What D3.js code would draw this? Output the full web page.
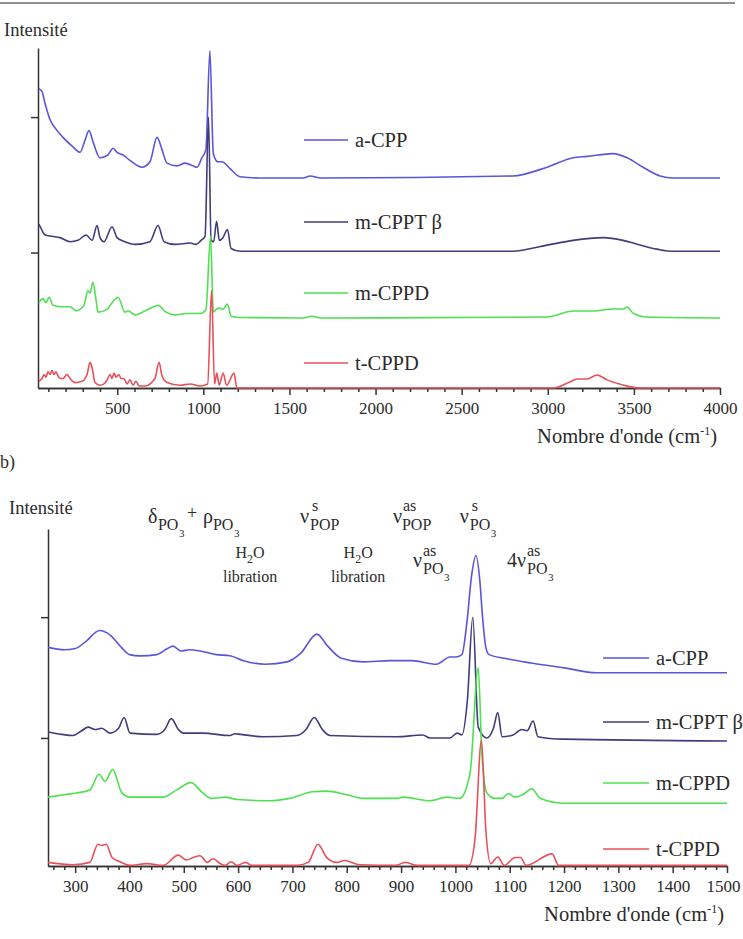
<!DOCTYPE html>
<html>
<head>
<meta charset="utf-8">
<script src="https://cdn.jsdelivr.net/npm/d3@7/dist/d3.min.js"></script>
<style>
  body { margin: 0; background: #fff; }
  svg text { fill: #2b2b2b; }
</style>
</head>
<body>
<script>
const FONT = "'Liberation Serif', 'Tinos', 'DejaVu Serif', serif";

// series names + colours (same for both panels)
const seriesNames = ["a-CPP", "m-CPPT \u03b2", "m-CPPD", "t-CPPD"];
const seriesColors = ["#5a55dc", "#3f3d7c", "#4fe04f", "#e8505a"];

// panel a : [wavenumber (cm-1), intensity]
const topACPP = [[45,2.21],[55,2.20],[63,2.19],[81,2.10],[110,1.98],[139,1.92],[185,1.85],[243,1.78],[284,1.74],[313,1.83],[336,1.90],[359,1.82],[400,1.70],[446,1.72],[476,1.77],[499,1.74],[534,1.72],[574,1.68],[644,1.63],[690,1.67],[731,1.85],[760,1.76],[789,1.66],[847,1.64],[894,1.66],[940,1.64],[963,1.63],[992,1.70],[1015,1.76],[1038,2.49],[1058,1.73],[1085,1.67],[1108,1.67],[1155,1.62],[1213,1.56],[1329,1.55],[1580,1.55],[1620,1.565],[1680,1.55],[2795,1.565],[2996,1.63],[3147,1.70],[3228,1.71],[3379,1.73],[3460,1.70],[3553,1.63],[3652,1.565],[3728,1.55],[4000,1.55]];
const topMCPPT = [[45,1.21],[57,1.18],[81,1.13],[121,1.12],[168,1.11],[226,1.08],[272,1.09],[319,1.13],[354,1.09],[383,1.20],[400,1.11],[423,1.08],[470,1.19],[499,1.11],[545,1.08],[603,1.06],[690,1.08],[737,1.20],[772,1.08],[836,1.06],[923,1.07],[958,1.06],[987,1.09],[1010,1.12],[1030,2.00],[1045,1.09],[1060,1.08],[1077,1.23],[1093,1.09],[1114,1.11],[1140,1.17],[1161,1.03],[1213,1.01],[2795,1.01],[2996,1.055],[3147,1.09],[3321,1.11],[3437,1.09],[3524,1.06],[3634,1.025],[3710,1.01],[4000,1.01]];
const topMCPPD = [[45,0.63],[69,0.66],[86,0.63],[104,0.67],[127,0.61],[168,0.60],[226,0.60],[261,0.57],[307,0.61],[330,0.72],[342,0.70],[359,0.78],[377,0.65],[388,0.56],[441,0.58],[470,0.63],[505,0.67],[545,0.56],[563,0.57],[603,0.54],[679,0.58],[737,0.61],[783,0.56],[836,0.54],[899,0.55],[981,0.55],[1015,0.58],[1042,1.12],[1058,0.56],[1074,0.58],[1097,0.59],[1114,0.58],[1140,0.62],[1161,0.53],[1213,0.52],[1580,0.517],[1630,0.53],[1680,0.517],[2996,0.524],[3147,0.568],[3263,0.568],[3379,0.583],[3437,0.583],[3460,0.598],[3495,0.553],[3576,0.524],[4000,0.517]];
const topTCPPD = [[45,0.05],[63,0.07],[75,0.10],[86,0.08],[98,0.12],[110,0.10],[121,0.13],[133,0.10],[145,0.12],[156,0.09],[168,0.07],[185,0.07],[208,0.10],[232,0.06],[255,0.04],[296,0.05],[325,0.10],[342,0.19],[354,0.15],[371,0.04],[400,0.02],[423,0.03],[441,0.06],[458,0.10],[470,0.07],[481,0.11],[493,0.08],[510,0.10],[522,0.07],[539,0.07],[557,0.03],[574,0.06],[592,0.02],[609,0.05],[627,0.015],[661,0.015],[719,0.07],[743,0.19],[760,0.09],[789,0.04],[865,0.02],[923,0.03],[981,0.015],[1025,0.03],[1048,0.72],[1065,0.03],[1078,0.11],[1092,0.02],[1115,0.11],[1135,0.02],[1178,0.11],[1195,0.0],[3031,0.0],[3128,0.044],[3170,0.066],[3228,0.066],[3286,0.096],[3344,0.06],[3437,0.022],[3536,0.0],[4000,0.0]];

// panel b : [wavenumber (cm-1), intensity]
const botACPP = [[250,1.75],[280,1.73],[300,1.74],[320,1.80],[345,1.89],[365,1.85],[385,1.75],[400,1.69],[420,1.68],[450,1.69],[470,1.74],[480,1.76],[495,1.72],[510,1.73],[530,1.72],[560,1.69],[585,1.68],[610,1.64],[650,1.61],[690,1.63],[715,1.70],[745,1.86],[765,1.76],[790,1.66],[830,1.63],[880,1.64],[920,1.64],[965,1.61],[990,1.67],[1000,1.67],[1012,1.69],[1021,1.95],[1030,2.35],[1038,2.51],[1045,2.30],[1050,2.0],[1056,1.75],[1062,1.69],[1090,1.66],[1140,1.62],[1200,1.58],[1260,1.54],[1500,1.54]];
const botMCPPT = [[250,1.05],[275,1.03],[296,1.02],[312,1.06],[324,1.09],[336,1.07],[349,1.08],[364,1.04],[380,1.08],[390,1.17],[401,1.04],[450,1.03],[465,1.07],[477,1.16],[490,1.07],[499,1.04],[535,1.04],[585,1.02],[594,1.035],[605,1.03],[646,1.01],[708,1.02],[725,1.07],[740,1.17],[755,1.07],[769,1.02],[892,1.01],[940,1.025],[953,1.00],[990,1.00],[1003,1.04],[1012,1.025],[1022,1.31],[1032,2.00],[1042,1.09],[1058,1.00],[1070,1.08],[1078,1.21],[1086,1.01],[1106,1.025],[1122,1.07],[1132,1.06],[1143,1.14],[1152,1.01],[1198,0.99],[1500,0.975]];
const botMCPPD = [[250,0.51],[280,0.53],[303,0.545],[327,0.57],[344,0.70],[355,0.64],[369,0.74],[386,0.545],[401,0.51],[462,0.51],[487,0.57],[513,0.63],[535,0.545],[551,0.50],[576,0.51],[598,0.49],[659,0.48],[695,0.50],[738,0.555],[763,0.56],[800,0.53],[830,0.50],[892,0.50],[904,0.51],[953,0.48],[984,0.51],[1008,0.50],[1027,0.71],[1042,1.58],[1049,0.84],[1058,0.545],[1073,0.50],[1086,0.50],[1097,0.54],[1110,0.51],[1124,0.53],[1141,0.58],[1156,0.50],[1198,0.46],[1500,0.46]];
const botTCPPD = [[250,-0.03],[296,-0.05],[327,-0.03],[342,0.12],[349,0.11],[357,0.12],[368,0.01],[383,-0.025],[401,-0.055],[432,-0.04],[462,-0.055],[490,0.03],[505,-0.01],[517,0.01],[530,0.025],[543,-0.03],[554,0.0],[567,-0.04],[576,-0.055],[587,-0.025],[598,-0.055],[614,-0.03],[625,-0.055],[708,-0.055],[729,-0.03],[747,0.12],[763,0.01],[782,-0.03],[796,-0.015],[824,-0.05],[890,-0.055],[908,-0.03],[930,-0.055],[1025,-0.055],[1036,0.16],[1048,0.98],[1056,0.24],[1065,-0.04],[1078,0.015],[1090,-0.055],[1110,0.01],[1120,0.01],[1130,-0.055],[1178,0.04],[1190,-0.055],[1500,-0.055]];

// axis ticks
const topMajorTicks = [500, 1000, 1500, 2000, 2500, 3000, 3500, 4000];
const botMajorTicks = [300, 400, 500, 600, 700, 800, 900, 1000, 1100, 1200, 1300, 1400, 1500];
const yTickValues = [1, 2];

// band assignments for panel b  (wavenumber anchor, row)
const bandLabels = [
  {wn: 434, row: 0, parts: [["\u03b4",0,0,20],["PO",10,7,16],["3",31,14,11],["+",39,-4,18],["\u03c1",55,0,20],["PO",65,7,16],["3",86,14,11]]},
  {wn: 714, row: 0, parts: [["\u03bd",0,0,20],["s",12,-12,16],["POP",10,7,16]]},
  {wn: 885, row: 0, parts: [["\u03bd",0,0,20],["as",10,-12,16],["POP",9,7,16]]},
  {wn: 1008, row: 0, parts: [["\u03bd",0,0,20],["s",12,-12,16],["PO",10,7,16],["3",31,14,11]]},
  {wn: 922, row: 1, parts: [["\u03bd",0,0,20],["as",10,-11,16],["PO",10,7,16],["3",31,14,11]]},
  {wn: 1095, row: 1, parts: [["4",0,0,20],["\u03bd",10,0,20],["as",20,-11,16],["PO",20,7,16],["3",41,14,11]]}
];
const waterLabels = [622, 821];

const W = 743, H = 939;
const svg = d3.select("body").append("svg").attr("width", W).attr("height", H)
  .attr("font-family", FONT);

// rule at the very top
svg.append("line").attr("x1", 0).attr("x2", 735).attr("y1", 3).attr("y2", 3)
   .attr("stroke", "#6b6b6b").attr("stroke-width", 1.5);

function drawPanel(cfg){
  const g = svg.append("g");
  const x = d3.scaleLinear().domain(cfg.xDomain).range([cfg.left, cfg.right]);
  const y = d3.scaleLinear().domain(cfg.yDomain).range([cfg.bottom, cfg.top]);

  const minorAxis = d3.axisBottom(x).tickValues(cfg.minorTicks).tickSize(4).tickSizeOuter(0).tickFormat("");
  const majorAxis = d3.axisBottom(x).tickValues(cfg.majorTicks).tickSize(7).tickSizeOuter(0).tickPadding(7).tickFormat(d3.format("d"));
  const yAxis = d3.axisLeft(y).tickValues(yTickValues).tickSize(7).tickSizeOuter(0).tickFormat("");

  g.append("g").attr("transform", "translate(0," + cfg.bottom + ")").call(minorAxis);
  const xa = g.append("g").attr("transform", "translate(0," + cfg.bottom + ")").call(majorAxis);
  xa.attr("font-family", FONT);
  xa.selectAll("text").attr("font-size", 17).attr("fill", "#2b2b2b");
  // keep the last label inside the page
  xa.selectAll(".tick").filter(d => d === cfg.xDomain[1]).select("text").attr("dx", cfg.lastLabelShift);
  g.append("g").attr("transform", "translate(" + cfg.left + ",0)").call(yAxis);
  g.selectAll(".domain, .tick line").attr("stroke", "#333").attr("stroke-width", 1.5);

  const line = d3.line().x(d => x(d[0])).y(d => y(d[1])).curve(d3.curveMonotoneX);
  cfg.series.forEach((s, i) => {
    g.append("path").datum(s).attr("d", line).attr("fill", "none")
     .attr("stroke", seriesColors[i]).attr("stroke-width", 1.6).attr("stroke-linejoin", "round");
  });

  // legend
  seriesNames.forEach((name, i) => {
    const ly = cfg.legendY[i];
    g.append("line").attr("x1", cfg.legendX).attr("x2", cfg.legendX + cfg.legendLen)
     .attr("y1", ly).attr("y2", ly).attr("stroke", seriesColors[i]).attr("stroke-width", 1.6);
    g.append("text").attr("x", cfg.legendX + cfg.legendLen + 7).attr("y", ly).attr("dy", "0.35em")
     .attr("font-size", 20.5).text(name);
  });

  g.append("text").attr("x", cfg.ylabelX).attr("y", cfg.ylabelY).attr("font-size", 18.5).text("Intensit\u00e9");

  const t = g.append("text").attr("x", cfg.right - 3).attr("y", cfg.bottom + 55)
     .attr("text-anchor", "end").attr("font-size", 20.5);
  t.append("tspan").text("Nombre d'onde (cm");
  t.append("tspan").attr("dy", -8).attr("font-size", 12).text("-1");
  t.append("tspan").attr("dy", 8).text(")");
  return x;
}

drawPanel({
  left: 38, right: 720, top: 48, bottom: 388,
  xDomain: [40, 4000], yDomain: [0, 2.51],
  majorTicks: topMajorTicks, minorTicks: d3.range(100, 4000, 100).filter(v => v % 500),
  series: [topACPP, topMCPPT, topMCPPD, topTCPPD],
  legendX: 304, legendLen: 44, legendY: [140, 222, 293, 363],
  ylabelX: 4, ylabelY: 36, lastLabelShift: 0
});

const xb = drawPanel({
  left: 48, right: 727, top: 529, bottom: 866,
  xDomain: [250, 1500], yDomain: [-0.06, 2.73],
  majorTicks: botMajorTicks, minorTicks: d3.range(260, 1500, 20).filter(v => v % 100),
  series: [botACPP, botMCPPT, botMCPPD, botTCPPD],
  legendX: 603, legendLen: 46, legendY: [658, 722, 783, 849],
  ylabelX: 9, ylabelY: 514, lastLabelShift: -4
});

svg.append("text").attr("x", 0).attr("y", 468).attr("font-size", 18).text("b)");

// band assignment labels
const rowBase = [523, 567];
bandLabels.forEach(b => {
  const x0 = xb(b.wn), y0 = rowBase[b.row];
  const t = svg.append("text");
  b.parts.forEach(p => {
    t.append("tspan").attr("x", x0 + p[1]).attr("y", y0 + p[2]).attr("font-size", p[3]).text(p[0]);
  });
});
waterLabels.forEach(wn => {
  const cx = xb(wn);
  const t = svg.append("text").attr("x", cx).attr("y", 558).attr("text-anchor", "middle").attr("font-size", 16);
  t.append("tspan").text("H");
  t.append("tspan").attr("dy", 5).attr("font-size", 12).text("2");
  t.append("tspan").attr("dy", -5).text("O");
  svg.append("text").attr("x", cx).attr("y", 582).attr("text-anchor", "middle").attr("font-size", 16).text("libration");
});
</script>
</body>
</html>
